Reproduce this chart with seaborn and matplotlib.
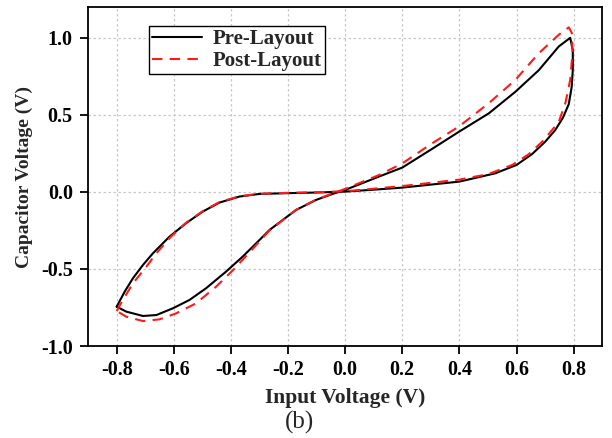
import numpy as np
import pandas as pd
import matplotlib
matplotlib.use("Agg")
import matplotlib.pyplot as plt
import seaborn as sns

# Pre-Layout loop (black, solid), traced in drawing order
pre_x = [-0.800, -0.772, -0.743, -0.708, -0.673, -0.615, -0.557, -0.499, -0.440, -0.370,
         -0.300, -0.200, -0.100, 0.000, 0.119, 0.200, 0.400, 0.526, 0.600, 0.654,
         0.700, 0.735, 0.762, 0.783, 0.793, 0.797, 0.797, 0.788,
         0.748, 0.678, 0.596, 0.503, 0.398, 0.305, 0.200, 0.119, 0.000, -0.044,
         -0.102, -0.172, -0.265, -0.300, -0.359, -0.417, -0.487, -0.545, -0.603,
         -0.661, -0.708, -0.766, -0.800]
pre_y = [-0.745, -0.647, -0.560, -0.474, -0.398, -0.290, -0.203, -0.128, -0.069, -0.030,
         -0.013, -0.008, -0.004, 0.002, 0.017, 0.028, 0.067, 0.121, 0.175, 0.245,
         0.325, 0.400, 0.480, 0.570, 0.680, 0.790, 0.920, 1.000,
         0.944, 0.790, 0.650, 0.510, 0.390, 0.280, 0.158, 0.100, 0.013, -0.013,
         -0.052, -0.117, -0.247, -0.312, -0.420, -0.517, -0.625, -0.701, -0.755,
         -0.799, -0.805, -0.777, -0.745]

# Post-Layout loop (red, dashed), traced in drawing order
post_x = [-0.800, -0.778, -0.743, -0.696, -0.661, -0.610, -0.557, -0.499, -0.440, -0.370,
          -0.300, -0.200, -0.100, 0.000, 0.200, 0.400, 0.500, 0.585, 0.643, 0.695,
          0.748, 0.771, 0.788, 0.796, 0.794, 0.783,
          0.748, 0.678, 0.596, 0.503, 0.398, 0.305, 0.200, 0.119, 0.000, -0.044,
          -0.102, -0.172, -0.265, -0.324, -0.394, -0.452, -0.522, -0.592, -0.650,
          -0.708, -0.766, -0.800]
post_y = [-0.773, -0.700, -0.593, -0.485, -0.398, -0.290, -0.200, -0.125, -0.066, -0.028,
          -0.012, -0.006, -0.002, 0.004, 0.038, 0.080, 0.115, 0.175, 0.245, 0.335,
          0.455, 0.576, 0.727, 0.900, 1.030, 1.068,
          1.020, 0.900, 0.727, 0.576, 0.424, 0.316, 0.185, 0.110, 0.020, -0.010,
          -0.050, -0.117, -0.250, -0.370, -0.510, -0.615, -0.723, -0.788, -0.827,
          -0.838, -0.810, -0.773]

x_ticks = [-0.8, -0.6, -0.4, -0.2, 0.0, 0.2, 0.4, 0.6, 0.8]
y_ticks = [-1.0, -0.5, 0.0, 0.5, 1.0]

sns.set_style("ticks")
plt.rcParams['font.family'] = ['Liberation Serif', 'DejaVu Serif']
plt.rcParams['axes.unicode_minus'] = False

fig = plt.figure(figsize=(6.12, 4.38), dpi=100)
ax = fig.add_axes([0.144, 0.21, 0.840, 0.774])

sns.lineplot(x=pre_x, y=pre_y, sort=False, estimator=None, ax=ax,
             color="black", linewidth=1.5, label="Pre-Layout")
sns.lineplot(x=post_x, y=post_y, sort=False, estimator=None, ax=ax,
             color="#ff1a1a", linewidth=1.5, linestyle=(0, (5, 3.5)), label="Post-Layout")

ax.set_xlim(-0.9, 0.9)
ax.set_ylim(-1.0, 1.2)
ax.set_xticks(x_ticks)
ax.set_yticks(y_ticks)
ax.set_xticklabels([f"{v:.1f}" for v in x_ticks])
ax.set_yticklabels([f"{v:.1f}" for v in y_ticks])
ax.grid(True, color="#c8c8c8", linestyle=(0, (2, 2)), linewidth=0.9)
ax.set_axisbelow(True)

for s in ax.spines.values():
    s.set_visible(True)
    s.set_color("black")
    s.set_linewidth(1.3)

ax.tick_params(axis="both", direction="out", length=6, width=1.3, colors="black",
               labelsize=14.5, top=False, right=False)
ax.tick_params(axis="x", pad=4)
ax.tick_params(axis="y", pad=5)
for lbl in ax.get_xticklabels() + ax.get_yticklabels():
    lbl.set_fontweight("bold")

ax.set_xlabel("Input Voltage (V)", fontsize=15.5, fontweight="bold", labelpad=6)
ax.set_ylabel("Capacitor Voltage (V)", fontsize=14, fontweight="bold", labelpad=6)

leg = ax.legend(loc="upper left", bbox_to_anchor=(0.119, 0.944), frameon=True,
                fancybox=False, edgecolor="black", framealpha=1,
                prop={"weight": "bold", "size": 15}, handlelength=2.4,
                borderpad=0.15, labelspacing=0.1, handletextpad=0.5, borderaxespad=0)
leg.get_frame().set_linewidth(1.0)

fig.text(0.49, 0.035, "(b)", fontsize=18, ha="center", va="center")

fig.savefig("out.png", dpi=100)
